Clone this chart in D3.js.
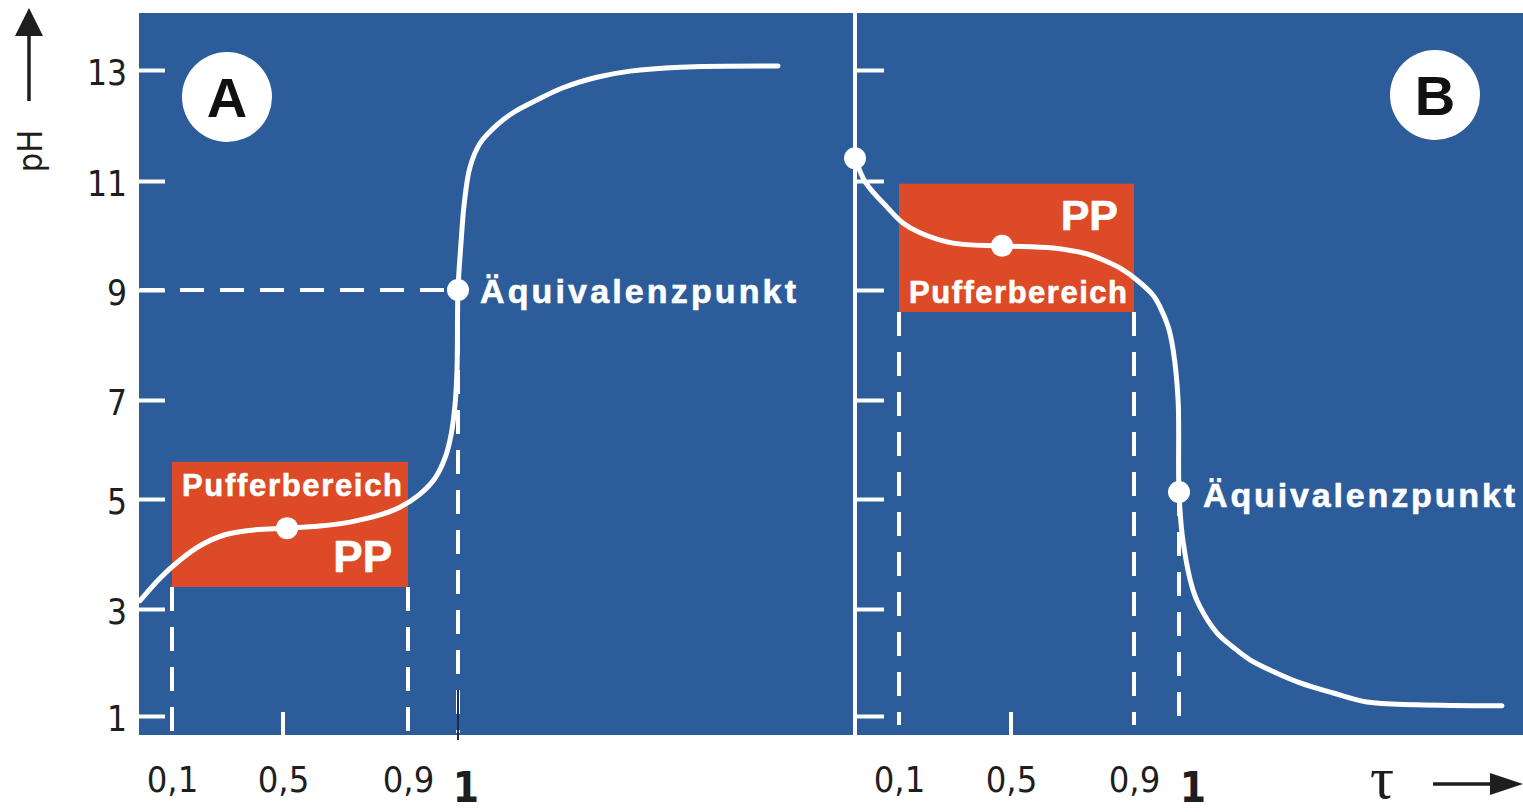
<!DOCTYPE html>
<html>
<head>
<meta charset="utf-8">
<script src="https://cdn.jsdelivr.net/npm/d3@7.9.0/dist/d3.min.js"></script>
<style>
  body { margin: 0; background: #fff; }
  svg { display: block; }
</style>
</head>
<body>
<svg id="chart" width="1523" height="812"></svg>
<script>
// pH axis and titration fraction (tau) ticks
const phTicks = [1, 3, 5, 7, 9, 11, 13];
const tauTicks = [0.1, 0.5, 0.9];

// A: weak acid titrated with strong base
const tauA = [0, 0.0625, 0.129, 0.201, 0.291, 0.399, 0.513, 0.618, 0.714, 0.81, 0.874, 0.924, 0.954, 0.974, 0.986, 0.994, 0.998,
              1.0, 1.009, 1.019, 1.0375, 1.069, 1.122, 1.172, 1.247, 1.328, 1.434, 1.538, 1.694, 2.0];
const phA  = [3.15, 3.56, 3.89, 4.15, 4.35, 4.44, 4.47, 4.51, 4.58, 4.71, 4.85, 5.10, 5.42, 5.83, 6.29, 6.90, 7.55,
              9.0, 9.83, 10.56, 11.25, 11.68, 12.01, 12.23, 12.46, 12.68, 12.87, 12.98, 13.05, 13.07];
const dotsA = [[0.513, 4.47], [1.0, 9.0]];
const bufferA = [3.4, 5.75];   // pH range of the red box

// B: weak base titrated with strong acid
const tauB = [0, 0.025, 0.073, 0.114, 0.175, 0.293, 0.468, 0.637, 0.748, 0.80, 0.855, 0.907, 0.942, 0.958, 0.976, 0.987, 0.998,
              1.0, 1.012, 1.043, 1.065, 1.118, 1.167, 1.22, 1.303, 1.375, 1.477, 1.582, 1.737, 2.0];
const phB  = [11.41, 10.96, 10.52, 10.23, 10.05, 9.86, 9.81, 9.77, 9.66, 9.55, 9.40, 9.18, 8.91, 8.69, 8.33, 7.91, 7.0,
              5.14, 4.25, 3.35, 3.04, 2.55, 2.29, 2.05, 1.80, 1.62, 1.43, 1.26, 1.21, 1.19];
const dotsB = [[0, 11.41], [0.468, 9.81], [1.0, 5.14]];
const bufferB = [8.6, 10.95];

const bufferTau = [0.1, 0.9];

const BLUE = '#2c5c9a';
const RED = '#dc4a28';
const INK = '#1e1e1e';

const svg = d3.select('#chart');

// the drawing is schematic, so the scales are piecewise linear
const y = d3.scaleLinear().domain(phTicks).range([716, 609, 499, 400, 290, 181, 70]);
const xA = d3.scaleLinear().domain([0, 0.1, 0.5, 0.9, 1, 2]).range([140, 172, 283, 408, 458, 778]);
const xB = d3.scaleLinear().domain([0, 0.1, 0.5, 0.9, 1, 2]).range([855, 899, 1011, 1134, 1179, 1502]);

const deFormat = d3.formatLocale({ decimal: ',', thousands: '.', grouping: [3], currency: ['', ' €'] }).format('.1f');

// background panel
svg.append('rect')
  .attr('x', 139).attr('y', 13).attr('width', 1523 - 139).attr('height', 735 - 13)
  .attr('fill', BLUE);

// left axis with labels (ticks point inward)
const axisA = svg.append('g')
  .attr('transform', 'translate(139,0)')
  .call(d3.axisLeft(y).tickValues(phTicks).tickSizeInner(-26).tickSizeOuter(0).tickPadding(12));
axisA.select('.domain').remove();
axisA.selectAll('.tick line').attr('stroke', '#fff').attr('stroke-width', 4);
axisA.selectAll('.tick text')
  .attr('fill', INK)
  .attr('dy', '0.42em')
  .style('font-family', '"DejaVu Sans Condensed", "DejaVu Sans", sans-serif')
  .style('font-size', '35px');

// B axis: white line with ticks, no labels
svg.append('line')
  .attr('x1', 855).attr('x2', 855).attr('y1', 13).attr('y2', 735)
  .attr('stroke', '#fff').attr('stroke-width', 4);
const axisB = svg.append('g')
  .attr('transform', 'translate(855,0)')
  .call(d3.axisRight(y).tickValues(phTicks).tickSizeInner(29).tickSizeOuter(0).tickFormat(''));
axisB.select('.domain').remove();
axisB.selectAll('.tick line').attr('stroke', '#fff').attr('stroke-width', 4);

// x labels under both panels
[xA, xB].forEach(x => {
  const g = svg.append('g')
    .attr('transform', 'translate(0,735)')
    .call(d3.axisBottom(x).tickValues(tauTicks).tickSize(0).tickPadding(31).tickFormat(deFormat));
  g.select('.domain').remove();
  g.selectAll('.tick text')
    .attr('fill', INK)
    .style('font-family', '"DejaVu Sans Condensed", "DejaVu Sans", sans-serif')
    .style('font-size', '36px');

  svg.append('text')
    .attr('x', x(1) + (x === xA ? 8 : 14)).attr('y', 802)
    .attr('text-anchor', 'middle')
    .attr('fill', INK)
    .style('font-family', '"DejaVu Sans Condensed", "DejaVu Sans", sans-serif')
    .style('font-weight', 'bold')
    .style('font-size', '42px')
    .text('1');

  // small tick at 0,5 inside the panel
  svg.append('line')
    .attr('x1', x(0.5)).attr('x2', x(0.5)).attr('y1', 712).attr('y2', 735)
    .attr('stroke', '#fff').attr('stroke-width', 4);
});

// buffer boxes
function bufferBox(x, range) {
  svg.append('rect')
    .attr('x', x(bufferTau[0])).attr('width', x(bufferTau[1]) - x(bufferTau[0]))
    .attr('y', y(range[1])).attr('height', y(range[0]) - y(range[1]))
    .attr('fill', RED);
}
bufferBox(xA, bufferA);
bufferBox(xB, bufferB);

const labelFont = '"Liberation Sans", Arial, sans-serif';
function whiteText(x, yy, str, size, len, anchor) {
  const t = svg.append('text')
    .attr('x', x).attr('y', yy)
    .attr('fill', '#fff')
    .attr('stroke', '#fff').attr('stroke-width', 0.6)
    .attr('text-anchor', anchor || 'start')
    .style('font-family', labelFont)
    .style('font-weight', 'bold')
    .style('font-size', size + 'px')
    .text(str);
  if (len) t.attr('textLength', len).attr('lengthAdjust', 'spacing');
  return t;
}

// dashed guide lines
const dashed = (x1, y1, x2, y2) => svg.append('line')
  .attr('x1', x1).attr('y1', y1).attr('x2', x2).attr('y2', y2)
  .attr('stroke', '#fff').attr('stroke-width', 4).attr('stroke-dasharray', '24,16');

bufferTau.forEach(t => dashed(xA(t), y(bufferA[0]), xA(t), 733));
dashed(xA(1), y(9), xA(1), 733);
dashed(xA(0), y(9), xA(1), y(9));
svg.append('line')
  .attr('x1', xA(1)).attr('x2', xA(1)).attr('y1', 690).attr('y2', 740)
  .attr('stroke', '#1b2c55').attr('stroke-width', 2);

bufferTau.forEach(t => dashed(xB(t), y(bufferB[0]), xB(t), 725));
dashed(xB(1), y(dotsB[2][1]), xB(1), 725);

// labels in the boxes
whiteText(xA(0.1) + 10, y(bufferA[1]) + 34, 'Pufferbereich', 31, 220);
whiteText(xA(0.9) - 16, y(bufferA[0]) - 15, 'PP', 44, null, 'end');
whiteText(xB(0.1) + 10, y(bufferB[0]) - 9, 'Pufferbereich', 31, 218);
whiteText(xB(0.9) - 16, y(bufferB[1]) + 46, 'PP', 43, null, 'end');

// titration curves
const line = d3.line().curve(d3.curveCatmullRom.alpha(0.5));
svg.append('path')
  .attr('d', line(tauA.map((t, i) => [xA(t), y(phA[i])])))
  .attr('fill', 'none').attr('stroke', '#fff').attr('stroke-width', 5).attr('stroke-linecap', 'round');
svg.append('path')
  .attr('d', line(tauB.map((t, i) => [xB(t), y(phB[i])])))
  .attr('fill', 'none').attr('stroke', '#fff').attr('stroke-width', 5).attr('stroke-linecap', 'round');

svg.selectAll('circle.dotA').data(dotsA).enter().append('circle')
  .attr('class', 'dotA')
  .attr('cx', d => xA(d[0])).attr('cy', d => y(d[1])).attr('r', 11).attr('fill', '#fff');
svg.selectAll('circle.dotB').data(dotsB).enter().append('circle')
  .attr('class', 'dotB')
  .attr('cx', d => xB(d[0])).attr('cy', d => y(d[1])).attr('r', 11).attr('fill', '#fff');

// equivalence point labels
whiteText(xA(1) + 22, y(9) + 13, 'Äquivalenzpunkt', 34, 316);
whiteText(xB(1) + 24, y(dotsB[2][1]) + 15, 'Äquivalenzpunkt', 34, 312);

// panel badges
[['A', 227, 97], ['B', 1435, 95]].forEach(([label, cx, cy]) => {
  svg.append('circle').attr('cx', cx).attr('cy', cy).attr('r', 45).attr('fill', '#fff');
  svg.append('text')
    .attr('x', cx).attr('y', cy + 20)
    .attr('text-anchor', 'middle')
    .attr('fill', '#111')
    .style('font-family', labelFont)
    .style('font-weight', 'bold')
    .style('font-size', '56px')
    .text(label);
});

// pH axis title with arrow
svg.append('text')
  .attr('transform', 'translate(42,151) rotate(-90)')
  .attr('text-anchor', 'middle')
  .attr('fill', INK)
  .style('font-family', '"DejaVu Sans Condensed", "DejaVu Sans", sans-serif')
  .style('font-size', '34px')
  .text('pH');
svg.append('line').attr('x1', 29).attr('x2', 29).attr('y1', 101).attr('y2', 30)
  .attr('stroke', INK).attr('stroke-width', 3.5);
svg.append('path').attr('d', 'M29,8 L15,36 L43,36 Z').attr('fill', INK);

// tau axis title with arrow
svg.append('text')
  .attr('x', 1382).attr('y', 798)
  .attr('text-anchor', 'middle')
  .attr('fill', INK)
  .style('font-family', '"Liberation Serif", "Times New Roman", serif')
  .style('font-size', '60px')
  .text('τ');
svg.append('line').attr('x1', 1433).attr('x2', 1496).attr('y1', 784).attr('y2', 784)
  .attr('stroke', INK).attr('stroke-width', 3.5);
svg.append('path').attr('d', 'M1523,784 L1490,773 L1490,795 Z').attr('fill', INK);
</script>
</body>
</html>
